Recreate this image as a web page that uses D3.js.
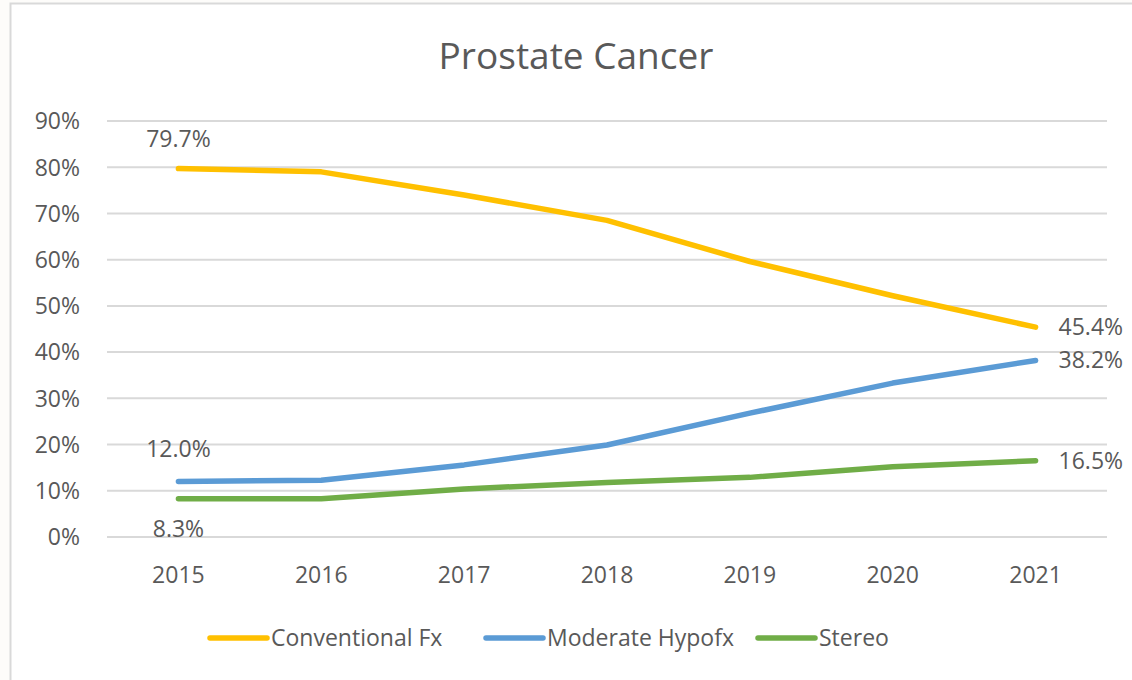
<!DOCTYPE html>
<html lang="en">
<head>
  <meta charset="UTF-8">
  <title>Prostate Cancer</title>
  <style>
    body { margin: 0; background: #fdfcfa; }
    svg { display: block; }
    text { font-family: "Open Sans", "Noto Sans", sans-serif; fill: #595959; }
  </style>
</head>
<body>
  <script src="https://cdn.jsdelivr.net/npm/d3@7"></script>
  <script type="text/javascript">
    // data
    var years = ["2015", "2016", "2017", "2018", "2019", "2020", "2021"];
    var conventional = [79.7, 79.0, 74.0, 68.5, 59.6, 52.2, 45.4];
    var moderate = [12.0, 12.3, 15.6, 19.9, 26.8, 33.3, 38.2];
    var stereo = [8.3, 8.3, 10.4, 11.8, 12.9, 15.2, 16.5];
    var yTicks = [0, 10, 20, 30, 40, 50, 60, 70, 80, 90];
    var seriesNames = ["Conventional Fx", "Moderate Hypofx", "Stereo"];

    var series = [
      { name: seriesNames[0], values: conventional, color: "#FFC000" },
      { name: seriesNames[1], values: moderate, color: "#5B9BD5" },
      { name: seriesNames[2], values: stereo, color: "#70AD47" }
    ];

    var width = 1132, height = 680;
    var svg = d3.select("body").append("svg")
      .attr("width", width)
      .attr("height", height);

    // chart area
    svg.append("rect")
      .attr("x", 10.5).attr("y", 3.5)
      .attr("width", 1140).attr("height", 700)
      .attr("fill", "#ffffff")
      .attr("stroke", "#d9d9d9")
      .attr("stroke-width", 2);

    var plot = { left: 107, right: 1107, top: 121, bottom: 537 };

    var x = d3.scalePoint().domain(years)
      .range([plot.left, plot.right]).padding(0.5);
    var y = d3.scaleLinear().domain([0, 90])
      .range([plot.bottom, plot.top]);

    // title
    svg.append("text")
      .attr("x", 576).attr("y", 69)
      .attr("text-anchor", "middle")
      .attr("font-size", "37px")
      .text("Prostate Cancer");

    // gridlines
    svg.append("g").selectAll("line")
      .data(yTicks).enter().append("line")
      .attr("x1", plot.left).attr("x2", plot.right)
      .attr("y1", function(d){ return y(d); })
      .attr("y2", function(d){ return y(d); })
      .attr("stroke", "#d9d9d9")
      .attr("stroke-width", 2);

    // y axis labels
    svg.append("g").selectAll("text")
      .data(yTicks).enter().append("text")
      .attr("x", 80)
      .attr("y", function(d){ return y(d); })
      .attr("dy", "0.36em")
      .attr("text-anchor", "end")
      .attr("font-size", "23px")
      .text(function(d){ return d + "%"; });

    // x axis labels
    svg.append("g").selectAll("text")
      .data(years).enter().append("text")
      .attr("x", function(d){ return x(d); })
      .attr("y", 583)
      .attr("text-anchor", "middle")
      .attr("font-size", "23px")
      .text(function(d){ return d; });

    // lines
    var line = d3.line()
      .x(function(d, i){ return x(years[i]); })
      .y(function(d){ return y(d); });

    svg.append("g").selectAll("path")
      .data(series).enter().append("path")
      .attr("d", function(s){ return line(s.values); })
      .attr("fill", "none")
      .attr("stroke", function(s){ return s.color; })
      .attr("stroke-width", 5.5)
      .attr("stroke-linecap", "round")
      .attr("stroke-linejoin", "round");

    // data labels on first and last points
    var fmt = function(v){ return v.toFixed(1) + "%"; };
    var first = years[0], last = years[years.length - 1];
    var labels = [
      { v: conventional[0], x: x(first), y: 147, anchor: "middle" },
      { v: moderate[0], x: x(first), y: 457, anchor: "middle" },
      { v: stereo[0], x: x(first), y: 537, anchor: "middle" },
      { v: conventional[6], x: x(last) + 23, y: y(conventional[6]) + 8, anchor: "start" },
      { v: moderate[6], x: x(last) + 23, y: y(moderate[6]) + 8, anchor: "start" },
      { v: stereo[6], x: x(last) + 23, y: y(stereo[6]) + 8, anchor: "start" }
    ];
    svg.append("g").selectAll("text")
      .data(labels).enter().append("text")
      .attr("x", function(d){ return d.x; })
      .attr("y", function(d){ return d.y; })
      .attr("text-anchor", function(d){ return d.anchor; })
      .attr("font-size", "23px")
      .text(function(d){ return fmt(d.v); });

    // legend
    var legendX = [207, 483, 755];
    var legend = svg.append("g").selectAll("g")
      .data(series).enter().append("g")
      .attr("transform", function(d, i){ return "translate(" + legendX[i] + ",638)"; });
    legend.append("line")
      .attr("x1", 3).attr("x2", 60)
      .attr("stroke", function(d){ return d.color; })
      .attr("stroke-width", 5.5)
      .attr("stroke-linecap", "round");
    legend.append("text")
      .attr("x", 64).attr("dy", "0.36em")
      .attr("font-size", "23px")
      .text(function(d){ return d.name; });
  </script>
</body>
</html>
